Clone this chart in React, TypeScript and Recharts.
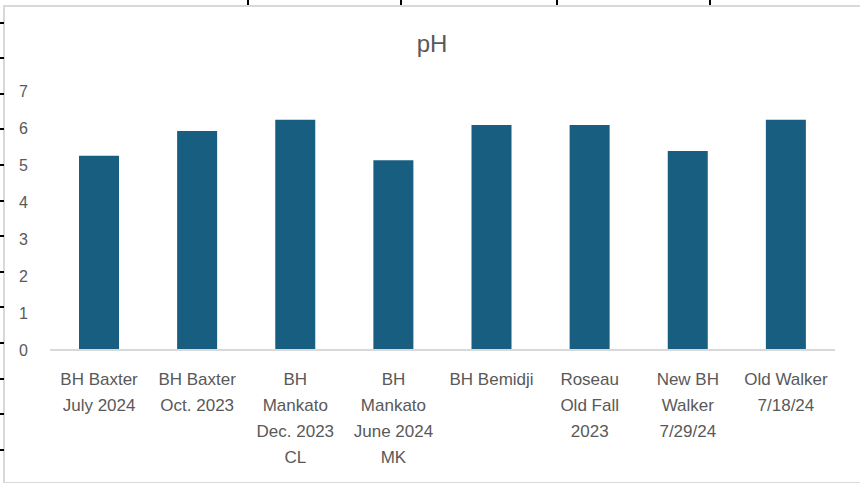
import React from 'react'
import { BarChart, Bar, XAxis, YAxis } from 'recharts'

const categories = [
  'BH Baxter\nJuly 2024',
  'BH Baxter\nOct. 2023',
  'BH\nMankato\nDec. 2023\nCL',
  'BH\nMankato\nJune 2024\nMK',
  'BH Bemidji',
  'Roseau\nOld Fall\n2023',
  'New BH\nWalker\n7/29/24',
  'Old Walker\n7/18/24',
]
const phValues = [5.25, 5.92, 6.22, 5.13, 6.08, 6.08, 5.38, 6.22]
const yTicks = [0, 1, 2, 3, 4, 5, 6, 7]

const data = categories.map((name, i) => ({ name, ph: phValues[i] }))

const FONT = '"Liberation Sans", Arial, sans-serif'
const TEXT = '#595959'

const CategoryTick = (props: any) => {
  const { x, y, payload } = props
  const lines = String(payload.value).split('\n')
  return (
    <text x={x} y={y} textAnchor="middle" fill={TEXT} fontSize={17} fontFamily={FONT}>
      {lines.map((line, i) => (
        <tspan key={i} x={x} dy={i === 0 ? 33 : 26}>{line}</tspan>
      ))}
    </text>
  )
}

const App = () => {
  const leftMarks = [22, 57, 93, 128, 164, 200, 235, 271, 306, 342, 378, 413, 449]
  const topMarks = [247, 400, 556, 709]
  return (
    <div style={{ position: 'absolute', left: 0, top: 0, width: 860, height: 483, background: '#fff', overflow: 'hidden' }}>
      <div style={{ position: 'absolute', left: 3, top: 5, width: 870, height: 475, border: '2px solid #d9d9d9' }} />
      {leftMarks.map(y => (
        <div key={y} style={{ position: 'absolute', left: 0, top: y, width: 4, height: 2, background: '#000' }} />
      ))}
      {topMarks.map(x => (
        <div key={x} style={{ position: 'absolute', left: x, top: 0, width: 2, height: 5, background: '#000' }} />
      ))}
      <div style={{ position: 'absolute', left: 0, top: 30, width: 864, textAlign: 'center', fontFamily: FONT, fontSize: 24, color: TEXT }}>
        pH
      </div>
      <div style={{ position: 'absolute', left: 0, top: 0 }}>
        <BarChart width={860} height={483} data={data} margin={{ top: 91, right: 25, bottom: 0, left: 0 }} barSize={40}>
          <YAxis
            domain={[0, 7]}
            ticks={yTicks}
            width={50}
            axisLine={false}
            tickLine={false}
            tickSize={0}
            tickMargin={22}
            tick={{ fill: TEXT, fontSize: 16, fontFamily: FONT }}
          />
          <XAxis
            dataKey="name"
            height={133}
            interval={0}
            axisLine={{ stroke: '#d9d9d9', strokeWidth: 2 }}
            tickLine={false}
            tickSize={0}
            tick={<CategoryTick />}
          />
          <Bar dataKey="ph" fill="#175e80" isAnimationActive={false} />
        </BarChart>
      </div>
    </div>
  )
}

export default App
